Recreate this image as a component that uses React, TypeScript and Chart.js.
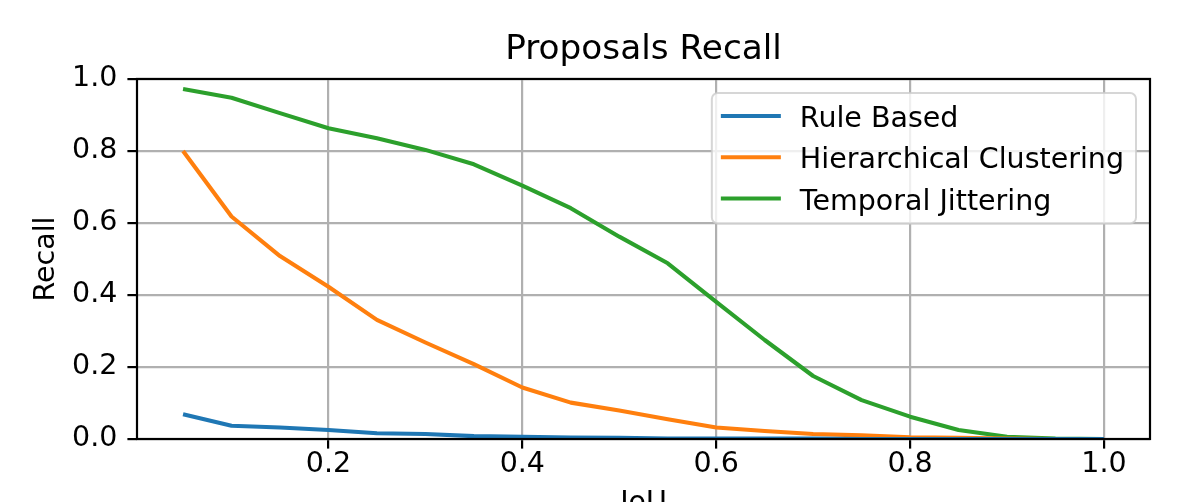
import React, { useEffect, useRef } from "react";
import { Chart, registerables } from "chart.js";

Chart.register(...registerables);

// ---- data ----
const iou = [0.05, 0.1, 0.15, 0.2, 0.25, 0.3, 0.35, 0.4, 0.45, 0.5, 0.55, 0.6, 0.65, 0.7, 0.75, 0.8, 0.85, 0.9, 0.95, 1.0];
const ruleBased = [0.069, 0.037, 0.032, 0.025, 0.016, 0.014, 0.008, 0.006, 0.004, 0.003, 0.001, 0.001, 0.001, 0.001, 0.0, 0.0, 0.0, 0.0, 0.0, 0.0];
const hierarchical = [0.8, 0.618, 0.508, 0.423, 0.331, 0.268, 0.208, 0.143, 0.101, 0.079, 0.055, 0.032, 0.022, 0.014, 0.01, 0.005, 0.003, 0.001, 0.0, 0.0];
const temporal = [0.972, 0.948, 0.905, 0.863, 0.835, 0.803, 0.763, 0.704, 0.641, 0.562, 0.488, 0.381, 0.275, 0.175, 0.108, 0.062, 0.025, 0.006, 0.001, 0.0];
const seriesLabels = ["Rule Based", "Hierarchical Clustering", "Temporal Jittering"];
const seriesColors = ["#1f77b4", "#ff7f0e", "#2ca02c"];
const xTicks = [0.2, 0.4, 0.6, 0.8, 1.0];
const yTicks = [0.0, 0.2, 0.4, 0.6, 0.8, 1.0];
const titleText = "Proposals Recall";
const xTitle = "IoU";
const yTitle = "Recall";

const FONT = "'DejaVu Sans', sans-serif";
const FS = 28.5;

const spinesPlugin = {
  id: "spines",
  afterDatasetsDraw(chart: any) {
    const { ctx, chartArea } = chart;
    const { left, top, right, bottom } = chartArea;
    ctx.save();
    ctx.strokeStyle = "#000";
    ctx.lineWidth = 2.2;
    ctx.strokeRect(left, top, right - left, bottom - top);
    ctx.restore();
  },
};

const boxLegendPlugin = {
  id: "boxLegend",
  afterDraw(chart: any) {
    const { ctx, chartArea } = chart;
    ctx.save();
    ctx.font = `${FS}px ${FONT}`;
    const items = chart.data.datasets.map((d: any) => ({ label: d.label, color: d.borderColor }));
    const maxW = Math.max(...items.map((i: any) => ctx.measureText(i.label).width));
    const right = chartArea.right - 14;
    const top = chartArea.top + 14;
    const textX = right - 12 - maxW;
    const left = textX - 88;
    const rowH = 41.3;
    const firstY = top + 23;
    const bottom = firstY + rowH * (items.length - 1) + 25;
    ctx.beginPath();
    ctx.roundRect(left, top, right - left, bottom - top, 6);
    ctx.fillStyle = "rgba(255,255,255,0.8)";
    ctx.fill();
    ctx.strokeStyle = "rgba(204,204,204,0.8)";
    ctx.lineWidth = 2;
    ctx.stroke();
    items.forEach((it: any, i: number) => {
      const y = firstY + i * rowH;
      ctx.beginPath();
      ctx.moveTo(textX - 79, y);
      ctx.lineTo(textX - 19, y);
      ctx.strokeStyle = it.color;
      ctx.lineWidth = 4.1;
      ctx.stroke();
      ctx.fillStyle = "#000";
      ctx.textBaseline = "alphabetic";
      ctx.textAlign = "left";
      ctx.fillText(it.label, textX, y + 11);
    });
    ctx.restore();
  },
};

export default function App() {
  const ref = useRef<HTMLCanvasElement | null>(null);
  useEffect(() => {
    if (!ref.current) return;
    const series = [ruleBased, hierarchical, temporal];
    const chart = new Chart(ref.current, {
      type: "line",
      data: {
        datasets: series.map((s, i) => ({
          label: seriesLabels[i],
          data: iou.map((x, j) => ({ x, y: s[j] })),
          borderColor: seriesColors[i],
          backgroundColor: seriesColors[i],
          borderWidth: 4.1,
          pointRadius: 0,
          tension: 0,
          fill: false,
          borderJoinStyle: "round" as const,
          borderCapStyle: "butt" as const,
        })),
      },
      options: {
        animation: false,
        responsive: false,
        devicePixelRatio: 1,
        layout: { padding: { left: 0, right: 35, top: 0, bottom: 0 } },
        plugins: {
          legend: { display: false },
          tooltip: { enabled: false },
          title: {
            display: true,
            fullSize: false,
            text: titleText,
            color: "#000",
            font: { family: FONT, size: 34.3, weight: "normal" as const, lineHeight: 1.2 },
            padding: { top: 29.2, bottom: 8.6 },
          },
        },
        scales: {
          x: {
            type: "linear",
            min: 0.0025,
            max: 1.0475,
            afterBuildTicks: (scale: any) => {
              scale.ticks = xTicks.map((v) => ({ value: v }));
            },
            afterFit: (scale: any) => {
              scale.height = 63;
            },
            ticks: {
              color: "#000",
              font: { family: FONT, size: FS, lineHeight: 1.2 },
              padding: -1,
              maxRotation: 0,
              autoSkip: false,
              callback: (v: any) => Number(v).toFixed(1),
            },
            grid: {
              color: "#b0b0b0",
              lineWidth: 2.2,
              drawTicks: true,
              tickLength: 9.6,
              tickColor: "#000",
              tickWidth: 2.2,
            },
            border: { display: false },
            title: {
              display: true,
              text: xTitle,
              color: "#000",
              font: { family: FONT, size: FS, lineHeight: 1.2 },
              padding: { top: 0, bottom: -18.3 },
            },
          },
          y: {
            type: "linear",
            min: 0,
            max: 1,
            afterBuildTicks: (scale: any) => {
              scale.ticks = yTicks.map((v) => ({ value: v }));
            },
            afterFit: (scale: any) => {
              scale.width = 137;
            },
            ticks: {
              color: "#000",
              font: { family: FONT, size: FS, lineHeight: 1.2 },
              padding: 10,
              autoSkip: false,
              callback: (v: any) => Number(v).toFixed(1),
            },
            grid: {
              color: "#b0b0b0",
              lineWidth: 2.2,
              drawTicks: true,
              tickLength: 9.6,
              tickColor: "#000",
              tickWidth: 2.2,
            },
            border: { display: false },
            title: {
              display: true,
              text: yTitle,
              color: "#000",
              font: { family: FONT, size: FS, lineHeight: 1.2 },
              padding: { top: 29.5, bottom: 0 },
            },
          },
        },
      },
      plugins: [spinesPlugin, boxLegendPlugin],
    } as any);
    return () => chart.destroy();
  }, []);
  return (
    <div style={{ position: "absolute", left: 0, top: 0, width: 1185, height: 502, background: "#fff" }}>
      <canvas ref={ref} width={1185} height={502} style={{ display: "block" }} />
    </div>
  );
}
